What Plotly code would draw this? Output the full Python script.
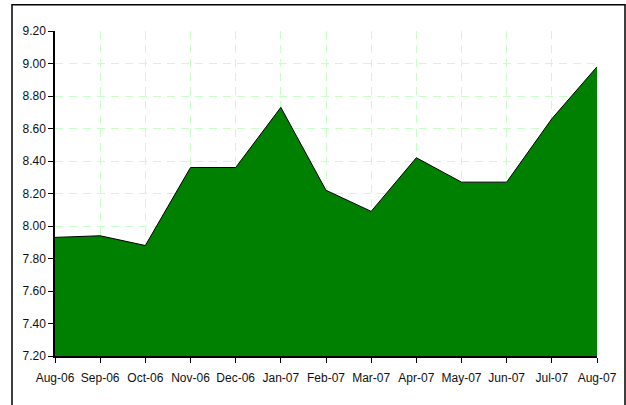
import plotly.graph_objects as go

months = ["Aug-06", "Sep-06", "Oct-06", "Nov-06", "Dec-06", "Jan-07", "Feb-07",
          "Mar-07", "Apr-07", "May-07", "Jun-07", "Jul-07", "Aug-07"]
values = [7.93, 7.94, 7.88, 8.36, 8.36, 8.73, 8.22, 8.09, 8.42, 8.27, 8.27, 8.66, 8.98]
y_ticks = [7.2, 7.4, 7.6, 7.8, 8.0, 8.2, 8.4, 8.6, 8.8, 9.0, 9.2]
grid_ticks = [7.4, 7.6, 7.8, 8.0, 8.2, 8.4, 8.6, 8.8, 9.0]

FONT = "Liberation Sans, Arial, sans-serif"
GRID = "#c8ffc8"
DASH = "8px,6px"

fig = go.Figure()
fig.add_trace(go.Scatter(
    x=months, y=values, mode="lines", fill="tozeroy",
    fillcolor="#008000", line=dict(color="#000000", width=1),
    hoverinfo="x+y", showlegend=False,
))
# invisible trace to activate the grid-only axis
fig.add_trace(go.Scatter(x=months, y=values, yaxis="y2", mode="none",
                         showlegend=False, hoverinfo="skip"))

fig.update_layout(
    width=626, height=405,
    margin=dict(l=55, r=29, t=31, b=49),
    paper_bgcolor="white", plot_bgcolor="white",
    font=dict(family=FONT, size=12, color="#111111"),
    xaxis=dict(
        type="category", range=[0, len(months) - 1],
        tickvals=months, ticktext=months, tickangle=0, automargin=False,
        showgrid=True, gridcolor=GRID, gridwidth=1.2, griddash=DASH,
        showline=True, linecolor="#000000", linewidth=1.5,
        ticks="outside", ticklen=5, tickcolor="#000000",
        ticklabelstandoff=5,
        zeroline=False, fixedrange=True,
    ),
    yaxis=dict(
        range=[7.2, 9.2], tickvals=y_ticks, automargin=False,
        ticktext=[f"{v:.2f}" for v in y_ticks],
        showgrid=False, showline=True, linecolor="#000000", linewidth=1.5,
        ticks="outside", ticklen=5, tickcolor="#000000",
        zeroline=False, fixedrange=True,
    ),
    yaxis2=dict(
        overlaying="y", range=[7.2, 9.2], tickvals=grid_ticks, automargin=False,
        showticklabels=False, ticks="", showline=False,
        showgrid=True, gridcolor=GRID, gridwidth=1.2, griddash=DASH,
        zeroline=False, fixedrange=True,
    ),
    shapes=[dict(
        type="rect", xref="paper", yref="paper",
        x0=(12 - 55) / 542, x1=(625 - 55) / 542,
        y0=-0.2, y1=(355.7 - 4.5) / 325,
        line=dict(color="#000000", width=1.5), fillcolor="rgba(0,0,0,0)",
        layer="below",
    )],
)

fig.write_html(
    "out.html",
    config={"displayModeBar": False},
    post_script="document.body.style.margin='0';document.body.style.overflow='hidden';",
)
